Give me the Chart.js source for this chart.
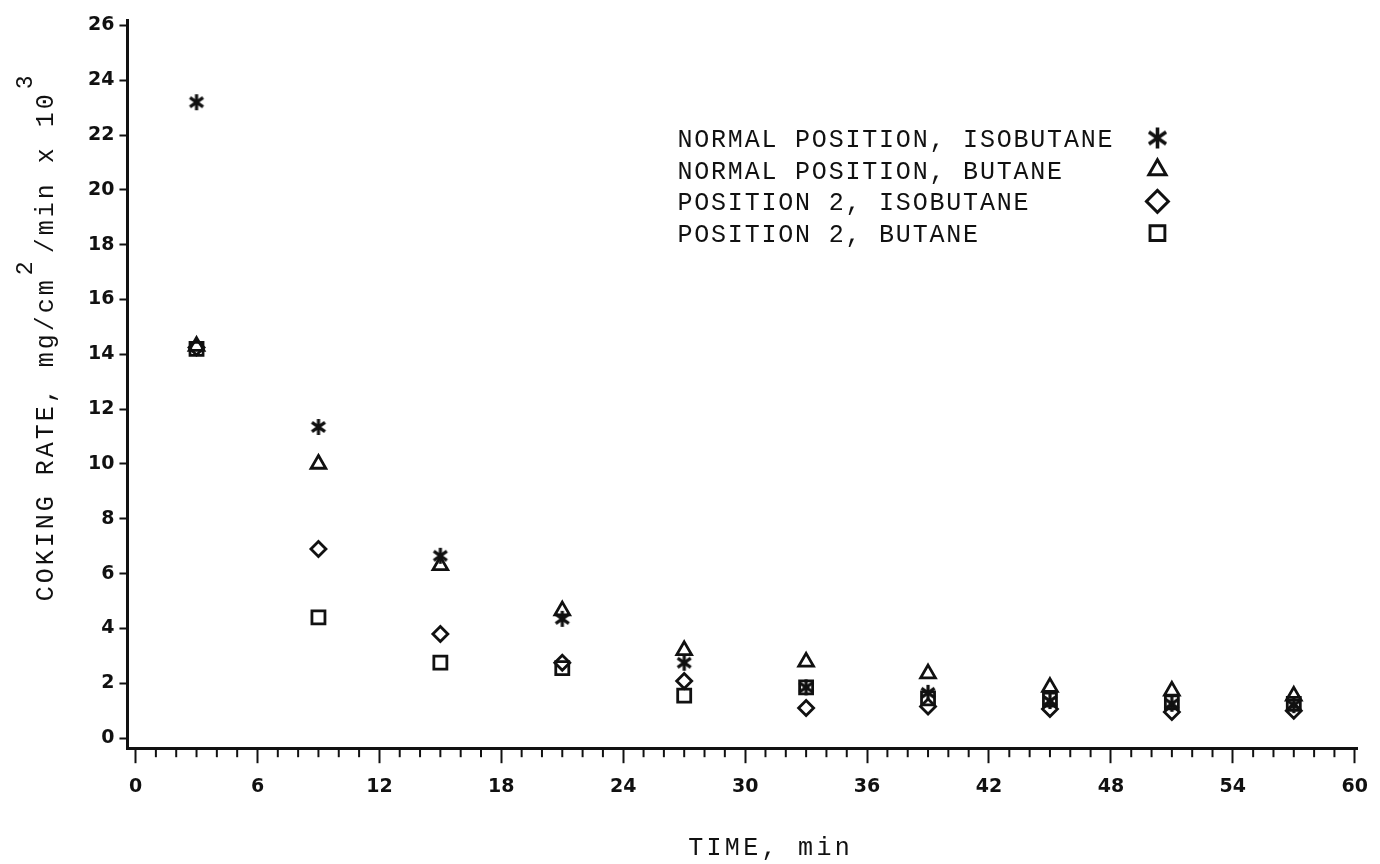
<!DOCTYPE html>
<html>
<head>
<meta charset="utf-8">
<title>Coking rate vs time</title>
<script src="https://cdn.jsdelivr.net/npm/chart.js@4.4.1/dist/chart.umd.min.js"></script>
<style>
  html, body { margin: 0; padding: 0; background: #fff; }
  #wrap { width: 1380px; height: 864px; }
</style>
</head>
<body>
<div id="wrap"><canvas id="coking" width="1380" height="864"></canvas></div>
<script>
// values (coking rate, mg/cm2/min x 10^3)
const times = [3, 9, 15, 21, 27, 33, 39, 45, 51, 57];
const normalIsobutane = [23.2, 11.35, 6.65, 4.35, 2.75, 1.85, 1.65, 1.35, 1.25, 1.2];
const normalButane = [14.3, 10.0, 6.3, 4.65, 3.2, 2.78, 2.35, 1.86, 1.72, 1.54];
const pos2Isobutane = [14.25, 6.9, 3.8, 2.75, 2.08, 1.1, 1.15, 1.06, 0.95, 1.0];
const pos2Butane = [14.2, 4.4, 2.75, 2.55, 1.55, 1.85, 1.45, 1.4, 1.3, 1.25];

const seriesLabels = [
    'NORMAL POSITION, ISOBUTANE',
    'NORMAL POSITION, BUTANE',
    'POSITION 2, ISOBUTANE',
    'POSITION 2, BUTANE'
];
const xTicks = [0, 6, 12, 18, 24, 30, 36, 42, 48, 54, 60];
const xMinorTicks = Array.from({ length: 61 }, (_, i) => i).filter(v => v % 6 !== 0);
const yTicks = [0, 2, 4, 6, 8, 10, 12, 14, 16, 18, 20, 22, 24, 26];
const xTitle = 'TIME, min';
const yTitleParts = [
    { text: 'COKING RATE, mg/cm', sup: false },
    { text: '2', sup: true },
    { text: '/min x 10', sup: false },
    { text: '3', sup: true }
];

const INK = '#111';
const MONO = '"Liberation Mono", "DejaVu Sans Mono", monospace';

// six-armed asterisk, like the plotter one
function asterisk(size, lw) {
    const c = document.createElement('canvas');
    c.width = size;
    c.height = size;
    const g = c.getContext('2d');
    g.strokeStyle = INK;
    g.lineWidth = lw;
    const m = size / 2, r = size / 2 - 1;
    [90, 35, 145].forEach(a => {
        const dx = Math.cos(a * Math.PI / 180) * r;
        const dy = Math.sin(a * Math.PI / 180) * r;
        g.beginPath();
        g.moveTo(m - dx, m - dy);
        g.lineTo(m + dx, m + dy);
        g.stroke();
    });
    return c;
}

const markers = [
    { style: asterisk(18, 3.2), radius: 9, legend: asterisk(23, 3.6), legendRadius: 11 },
    { style: 'triangle', radius: 8.5, legend: 'triangle', legendRadius: 10 },
    { style: 'rectRot', radius: 7.5, legend: 'rectRot', legendRadius: 11 },
    { style: 'rect', radius: 9.2, legend: 'rect', legendRadius: 10.5 }
];

const seriesValues = [normalIsobutane, normalButane, pos2Isobutane, pos2Butane];

const datasets = seriesValues.map((vals, i) => ({
    label: seriesLabels[i],
    data: times.map((t, j) => ({ x: t, y: vals[j] })),
    pointStyle: markers[i].style,
    pointRadius: markers[i].radius,
    pointHoverRadius: markers[i].radius,
    pointBorderWidth: 2.8,
    borderColor: INK,
    backgroundColor: 'rgba(0,0,0,0)',
    showLine: false
}));

// minor x ticks, axis titles and the legend on the right of its labels
const decorations = {
    id: 'decorations',
    afterDraw(chart) {
        const { ctx, chartArea: area, scales: { x } } = chart;
        ctx.save();

        ctx.strokeStyle = INK;
        ctx.lineWidth = 2;
        xMinorTicks.forEach(v => {
            const px = x.getPixelForValue(v);
            ctx.beginPath();
            ctx.moveTo(px, area.bottom);
            ctx.lineTo(px, area.bottom + 9);
            ctx.stroke();
        });

        ctx.fillStyle = INK;
        ctx.textAlign = 'left';
        ctx.textBaseline = 'alphabetic';

        // x title
        ctx.font = '25px ' + MONO;
        ctx.letterSpacing = '3.3px';
        const xw = ctx.measureText(xTitle).width;
        ctx.fillText(xTitle, (area.left + area.right) / 2 + 28 - xw / 2, area.bottom + 107);

        // y title, rotated, with raised exponents
        ctx.save();
        ctx.translate(area.left - 74, area.bottom - 147);
        ctx.rotate(-Math.PI / 2);
        let pos = 0;
        yTitleParts.forEach(p => {
            if (p.sup) {
                ctx.font = '23px ' + MONO;
                ctx.letterSpacing = '0px';
                pos += 2;
                ctx.fillText(p.text, pos, -21);
                pos += ctx.measureText(p.text).width + 8;
            } else {
                ctx.font = '25px ' + MONO;
                ctx.letterSpacing = '3px';
                ctx.fillText(p.text, pos, 0);
                pos += ctx.measureText(p.text).width;
            }
        });
        ctx.restore();

        // legend
        ctx.font = '25px ' + MONO;
        ctx.letterSpacing = '1.8px';
        const lx = area.left + 550;
        const mx = area.left + 1030;
        const top = area.top + 127;
        seriesLabels.forEach((label, i) => {
            const base = top + i * 31.7;
            ctx.fillStyle = INK;
            ctx.fillText(label, lx, base);
            ctx.strokeStyle = INK;
            ctx.fillStyle = 'rgba(0,0,0,0)';
            ctx.lineWidth = 2.9;
            Chart.helpers.drawPoint(ctx, {
                pointStyle: markers[i].legend,
                radius: markers[i].legendRadius,
                borderWidth: 2.9,
                rotation: 0
            }, mx, base - 9);
        });

        ctx.restore();
    }
};

const tickFont = { family: '"DejaVu Sans", sans-serif', weight: 'bold', size: 19 };

new Chart(document.getElementById('coking'), {
    type: 'scatter',
    data: { datasets },
    plugins: [decorations],
    options: {
        responsive: false,
        animation: false,
        layout: { padding: { left: 83, right: 2, top: 20, bottom: 54 } },
        plugins: {
            legend: { display: false },
            tooltip: { enabled: false }
        },
        scales: {
            x: {
                type: 'linear',
                min: -0.4,
                max: 60.15,
                afterBuildTicks: s => { s.ticks = xTicks.map(v => ({ value: v })); },
                border: { display: true, color: INK, width: 3 },
                grid: { drawOnChartArea: false, drawTicks: true, tickLength: 15, tickWidth: 2, tickColor: INK },
                ticks: { color: INK, font: tickFont, padding: 12, maxRotation: 0, autoSkip: false }
            },
            y: {
                type: 'linear',
                min: -0.37,
                max: 26.2,
                afterBuildTicks: s => { s.ticks = yTicks.map(v => ({ value: v })); },
                border: { display: true, color: INK, width: 3 },
                grid: { drawOnChartArea: false, drawTicks: true, tickLength: 8, tickWidth: 2, tickColor: INK },
                ticks: { color: INK, font: tickFont, padding: 5, autoSkip: false }
            }
        }
    }
});
</script>
</body>
</html>
